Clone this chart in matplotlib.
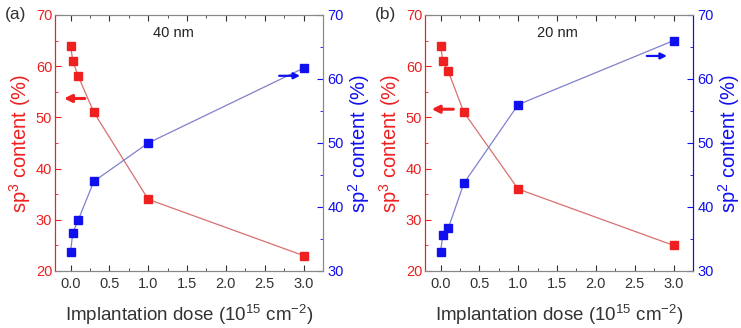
import matplotlib
matplotlib.use('Agg')
import matplotlib.pyplot as plt
from matplotlib.ticker import MultipleLocator

plt.rcParams['font.family'] = ['Liberation Sans', 'DejaVu Sans']
plt.rcParams['mathtext.fontset'] = 'custom'
plt.rcParams['mathtext.rm'] = 'Liberation Sans'
plt.rcParams['mathtext.it'] = 'Liberation Sans:italic'

dose = [0.0, 0.03, 0.1, 0.3, 1.0, 3.0]

sp3_40 = [64, 61, 58, 51, 34, 23]
sp2_40 = [33, 36, 38, 44, 50, 61.7]

sp3_20 = [64, 61, 59, 51, 36, 25]
sp2_20 = [33, 35.6, 36.7, 43.7, 56, 66]

panels = ['(a)', '(b)']
thickness = ['40 nm', '20 nm']

RED = '#ee2020'
BLUE = '#1010ee'
RED_LINE = '#d87070'
BLUE_LINE = '#8080cc'
GREY = '#333333'

fig = plt.figure(figsize=(7.41, 3.28), dpi=100)

lefts = [55 / 741, 425 / 741]
width = 268 / 741
bottom = 1 - 271 / 328
height = 256 / 328

# arrow positions: (x_start, x_end, y) on each panel's own axis
red_arrows = [(0.22, -0.12, 53.7), (0.2, -0.15, 51.6)]
blue_arrows = [(2.65, 2.99, 60.5), (2.62, 2.95, 63.6)]
label_pos = [(1.33, 66.4), (1.5, 66.4)]
right_spine = ['#888888', BLUE]

data = [(sp3_40, sp2_40), (sp3_20, sp2_20)]

for i in range(2):
    ax = fig.add_axes([lefts[i], bottom, width, height])
    ax2 = ax.twinx()
    sp3, sp2 = data[i]

    ax.plot(dose, sp3, color=RED_LINE, lw=0.9, zorder=2)
    ax.plot(dose, sp3, ls='none', marker='s', ms=6, color=RED, zorder=3)
    ax2.plot(dose, sp2, color=BLUE_LINE, lw=0.9, zorder=2)
    ax2.plot(dose, sp2, ls='none', marker='s', ms=6, color=BLUE, zorder=3)

    ax.set_xlim(-0.2, 3.25)
    ax.set_ylim(20, 70)
    ax2.set_ylim(30, 70)

    ax.xaxis.set_minor_locator(MultipleLocator(0.25))
    ax.yaxis.set_major_locator(MultipleLocator(10))
    ax.yaxis.set_minor_locator(MultipleLocator(5))
    ax2.yaxis.set_major_locator(MultipleLocator(10))
    ax2.yaxis.set_minor_locator(MultipleLocator(5))
    xt = [0, 0.5, 1.0, 1.5, 2.0, 2.5, 3.0]
    ax.set_xticks(xt)
    ax.set_xticklabels(['%.1f' % v for v in xt])

    ax.tick_params(axis='x', which='both', direction='in', top=True,
                   colors=GREY, labelsize=10.5, pad=4)
    ax.tick_params(axis='x', which='major', length=4)
    ax.tick_params(axis='x', which='minor', length=2)
    ax.tick_params(axis='y', which='both', direction='in', colors=RED,
                   labelsize=10.5, pad=2)
    ax.tick_params(axis='y', which='major', length=4)
    ax.tick_params(axis='y', which='minor', length=2)
    ax2.tick_params(axis='y', which='both', direction='in', colors=BLUE,
                    labelsize=10.5, pad=3)
    ax2.tick_params(axis='y', which='major', length=4)
    ax2.tick_params(axis='y', which='minor', length=2)

    for a in (ax, ax2):
        a.spines['top'].set_color('#888888')
        a.spines['bottom'].set_color('#888888')
        a.spines['left'].set_color(RED)
        a.spines['right'].set_color(right_spine[i])

    ax.set_ylabel('sp$^3$ content (%)', color=RED, fontsize=14.5, labelpad=2)
    ax2.set_ylabel('sp$^2$ content (%)', color=BLUE, fontsize=14.5, labelpad=2)
    ax.set_xlabel('Implantation dose (10$^{15}$ cm$^{-2}$)', color=GREY, fontsize=13.5,
                  labelpad=9)

    rx0, rx1, ry = red_arrows[i]
    ax.annotate('', xy=(rx1, ry), xytext=(rx0, ry),
                arrowprops=dict(arrowstyle='-|>', color=RED, lw=2.2,
                                mutation_scale=11))
    bx0, bx1, by = blue_arrows[i]
    ax2.annotate('', xy=(bx1, by), xytext=(bx0, by),
                 arrowprops=dict(arrowstyle='-|>', color=BLUE, lw=1.6,
                                 mutation_scale=9))

    tx, ty = label_pos[i]
    ax.text(tx, ty, thickness[i], fontsize=10.5, color='#222222', ha='center', va='center')

    fig.text(lefts[i] - 50 / 741, 1 - 14 / 328, panels[i], fontsize=12.5,
             color='#333333', ha='left', va='center')

fig.savefig('out.png', dpi=100)
